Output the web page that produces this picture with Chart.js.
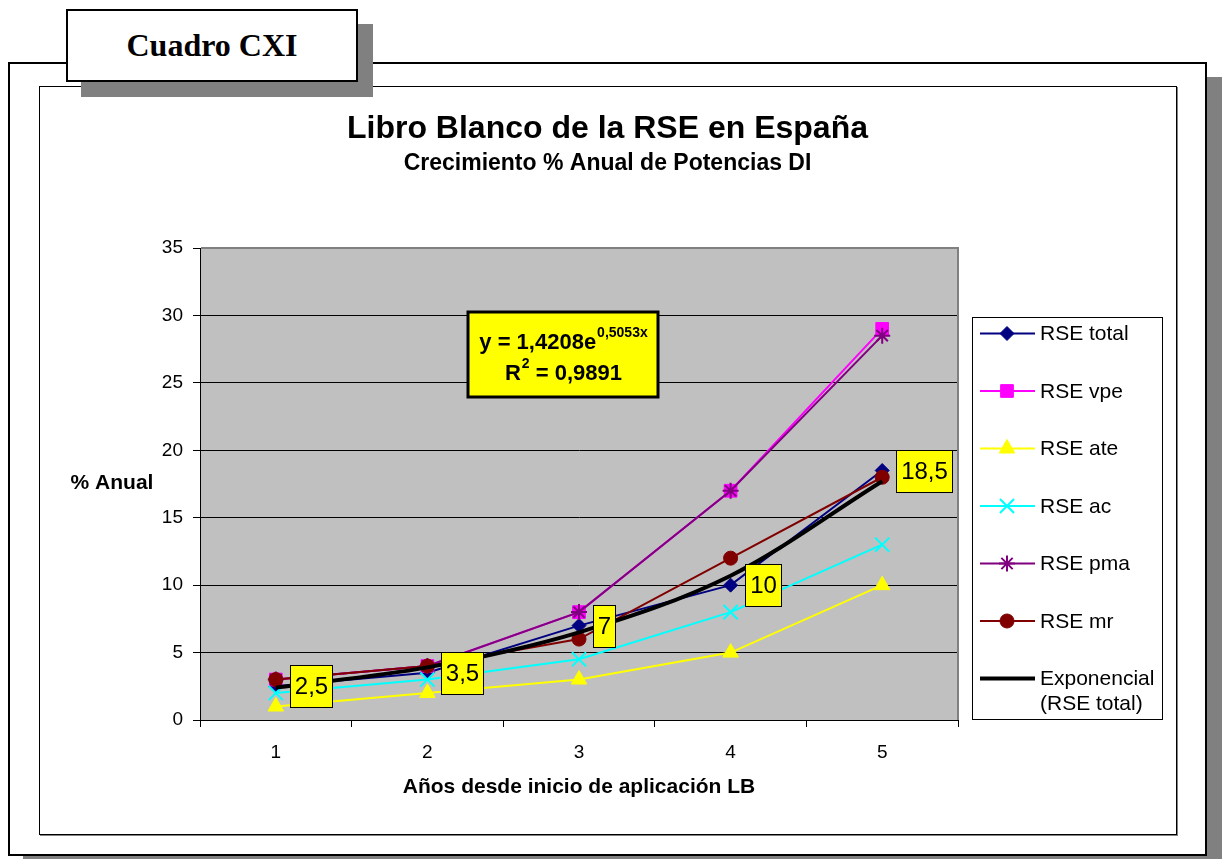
<!DOCTYPE html>
<html>
<head>
<meta charset="utf-8">
<script src="https://cdn.jsdelivr.net/npm/chart.js@4.4.0/dist/chart.umd.min.js"></script>
<style>
  body { margin:0; width:1223px; height:859px; background:#fff; position:relative; overflow:hidden; }
  .outer { position:absolute; box-sizing:border-box; left:8px; top:62px; width:1199px; height:794px; border:2px solid #000; background:#fff; box-shadow:15px 15px 0 #808080; }
  .inner { position:absolute; box-sizing:border-box; left:39px; top:86px; width:1138px; height:749px; border:1px solid #000; background:#fff; box-shadow:1px 1px 0 #808080; }
  .cuadro { position:absolute; box-sizing:border-box; left:66px; top:9px; width:292px; height:73px; border:2px solid #000; background:#fff; box-shadow:15px 15px 0 #808080;
            font:bold 32px "Liberation Serif", "Times New Roman", serif; text-align:center; line-height:68px; }
  #chart { position:absolute; left:40px; top:87px; }
</style>
</head>
<body>
<div class="outer"></div>
<div class="inner"></div>
<div class="cuadro">Cuadro CXI</div>
<canvas id="chart" width="1135" height="746"></canvas>
<script>
const years = ['1', '2', '3', '4', '5'];
const rseTotal = [2.5, 3.5, 7, 10, 18.5];
const rseVpe = [3, 4, 8, 17, 29];
const rseAte = [1, 2, 3, 5, 10];
const rseAc = [2, 3, 4.5, 8, 13];
const rsePma = [3, 4, 8, 17, 28.5];
const rseMr = [3, 4, 6, 12, 18];
// trend line values
const expTrend = [2.4, 3.9, 6.5, 10.7, 17.7];
const yTicks = [0, 5, 10, 15, 20, 25, 30, 35];

const FONT = '"Liberation Sans", Arial, sans-serif';
Chart.defaults.font.family = FONT;
Chart.defaults.color = '#000';

function series(label, data, color, style, radius, order, pbw) {
    return {
        label: label,
        data: data,
        borderColor: color,
        backgroundColor: color,
        borderWidth: 2,
        pointStyle: style,
        pointRadius: radius,
        pointHoverRadius: radius,
        pointBorderColor: color,
        pointBackgroundColor: color,
        pointBorderWidth: pbw || 1,
        order: order,
        tension: 0
    };
}

const datasets = [
    series('RSE total', rseTotal, '#000080', 'rectRot', 7, 7),
    series('RSE vpe', rseVpe, '#ff00ff', 'rect', 9, 6),
    series('RSE ate', rseAte, '#ffff00', 'triangle', 9, 5),
    series('RSE ac', rseAc, '#00ffff', 'crossRot', 10, 4, 2),
    series('RSE pma', rsePma, '#800080', 'star', 8, 3, 2),
    series('RSE mr', rseMr, '#800000', 'circle', 7, 2),
    {
        label: 'Exponencial (RSE total)',
        legendText: ['Exponencial', '(RSE total)'],
        data: expTrend,
        borderColor: '#000',
        backgroundColor: '#000',
        borderWidth: 4,
        pointRadius: 0,
        pointHoverRadius: 0,
        cubicInterpolationMode: 'monotone',
        order: 1
    }
];

// grey plot area with grey top/right border
const plotBack = {
    id: 'plotBack',
    beforeDraw(chart) {
        const a = chart.chartArea, ctx = chart.ctx;
        ctx.save();
        ctx.fillStyle = '#c0c0c0';
        ctx.fillRect(a.left, a.top, a.right - a.left, a.bottom - a.top);
        ctx.restore();
    },
    beforeDatasetsDraw(chart) {
        const a = chart.chartArea, ctx = chart.ctx;
        ctx.save();
        ctx.strokeStyle = '#808080';
        ctx.lineWidth = 2;
        ctx.beginPath();
        ctx.moveTo(a.left + 1, a.top);
        ctx.lineTo(a.right, a.top);
        ctx.lineTo(a.right, a.bottom);
        ctx.stroke();
        ctx.restore();
    }
};

// yellow value boxes for RSE total + equation box
const boxes = {
    id: 'boxes',
    afterDatasetsDraw(chart) {
        const ctx = chart.ctx;
        const meta = chart.getDatasetMeta(0);
        ctx.save();
        ctx.font = '24px ' + FONT;
        ctx.textAlign = 'center';
        ctx.textBaseline = 'middle';
        meta.data.forEach((pt, i) => {
            const txt = String(rseTotal[i]).replace('.', ',');
            const w = Math.round(ctx.measureText(txt).width + 9);
            const h = 42;
            const x = Math.round(pt.x + 14) + 0.5;
            const y = Math.round(pt.y - h / 2) + 0.5;
            ctx.fillStyle = '#ffff00';
            ctx.fillRect(x, y, w, h);
            ctx.strokeStyle = '#000';
            ctx.lineWidth = 1;
            ctx.strokeRect(x, y, w, h);
            ctx.fillStyle = '#000';
            ctx.fillText(txt, x + w / 2, y + h / 2 + 1);
        });

        // equation
        const bx = 428, by = 225, bw = 190, bh = 85;
        ctx.fillStyle = '#ffff00';
        ctx.fillRect(bx, by, bw, bh);
        ctx.strokeStyle = '#000';
        ctx.lineWidth = 3;
        ctx.strokeRect(bx, by, bw, bh);
        ctx.fillStyle = '#000';
        ctx.textAlign = 'left';
        ctx.textBaseline = 'alphabetic';
        const cx = bx + bw / 2;
        const big = 'bold 22px ' + FONT, small = 'bold 14px ' + FONT;
        ctx.font = big;
        const a1 = 'y = 1,4208e';
        const w1 = ctx.measureText(a1).width;
        ctx.font = small;
        const s1 = '0,5053x';
        const ws1 = ctx.measureText(s1).width;
        let sx = cx - (w1 + ws1) / 2;
        ctx.font = big;
        ctx.fillText(a1, sx, 262);
        ctx.font = small;
        ctx.fillText(s1, sx + w1 + 1, 250);

        ctx.font = big;
        const r = 'R', rest = ' = 0,9891';
        const wr = ctx.measureText(r).width, wrest = ctx.measureText(rest).width;
        ctx.font = small;
        const w2 = ctx.measureText('2').width;
        sx = cx - (wr + w2 + wrest) / 2;
        ctx.font = big;
        ctx.fillText(r, sx, 293);
        ctx.fillText(rest, sx + wr + w2 + 1, 293);
        ctx.font = small;
        ctx.fillText('2', sx + wr + 1, 281);
        ctx.restore();
    }
};

// titles, legend box on the right and y axis title
const sideLegend = {
    id: 'sideLegend',
    afterDraw(chart) {
        const ctx = chart.ctx;
        const a = chart.chartArea;
        ctx.save();
        ctx.fillStyle = '#000';
        ctx.textAlign = 'center';
        ctx.textBaseline = 'middle';
        ctx.font = 'bold 32px ' + FONT;
        ctx.fillText('Libro Blanco de la RSE en España', chart.width / 2, 42);
        ctx.font = 'bold 23px ' + FONT;
        ctx.fillText('Crecimiento % Anual de Potencias DI', chart.width / 2, 77);

        ctx.font = 'bold 21px ' + FONT;
        ctx.fillText('% Anual', a.left - 88, (a.top + a.bottom) / 2 - 1);

        const bx = 932.5, by = 230.5, bw = 190, bh = 402;
        ctx.strokeStyle = '#000';
        ctx.lineWidth = 1;
        ctx.strokeRect(bx, by, bw, bh);
        ctx.font = '21px ' + FONT;
        ctx.textAlign = 'left';
        chart.data.datasets.forEach((ds, i) => {
            const y = by + 16 + i * 57.5;
            ctx.strokeStyle = ds.borderColor;
            ctx.lineWidth = ds.borderWidth;
            ctx.beginPath();
            ctx.moveTo(940, y);
            ctx.lineTo(995, y);
            ctx.stroke();
            if (ds.pointRadius) {
                ctx.fillStyle = ds.pointBackgroundColor;
                ctx.strokeStyle = ds.pointBorderColor;
                ctx.lineWidth = ds.pointBorderWidth;
                Chart.helpers.drawPoint(ctx, {
                    pointStyle: ds.pointStyle,
                    radius: ds.pointRadius,
                    borderWidth: ds.pointBorderWidth,
                    rotation: 0
                }, 967, y);
            }
            ctx.fillStyle = '#000';
            const lines = ds.legendText || [ds.label];
            lines.forEach((t, j) => ctx.fillText(t, 1000, y + 1 + j * 25));
        });
        ctx.restore();
    }
};

new Chart(document.getElementById('chart'), {
    type: 'line',
    data: { labels: years, datasets: datasets },
    plugins: [plotBack, boxes, sideLegend],
    options: {
        responsive: false,
        animation: false,
        events: [],
        layout: { padding: { left: 0, right: 217, top: 161, bottom: 0 } },
        plugins: {
            legend: { display: false },
            tooltip: { enabled: false }
        },
        scales: {
            x: {
                offset: true,
                afterFit(scale) { scale.height = 113; },
                grid: { offset: true, drawOnChartArea: false, drawTicks: true, tickLength: 7, color: '#000' },
                border: { color: '#000', width: 1 },
                ticks: { font: { size: 19 }, padding: 14 },
                title: {
                    display: true,
                    text: 'Años desde inicio de aplicación LB',
                    font: { size: 21, weight: 'bold' },
                    padding: { top: 0, bottom: 33 }
                }
            },
            y: {
                min: yTicks[0],
                max: yTicks[yTicks.length - 1],
                afterFit(scale) { scale.width = 160; },
                afterBuildTicks(scale) { scale.ticks = yTicks.map(v => ({ value: v })); },
                grid: { color: '#000', tickColor: '#000', tickLength: 7 },
                border: { color: '#000', width: 1 },
                ticks: { font: { size: 19 }, padding: 10 }
            }
        }
    }
});
</script>
</body>
</html>
